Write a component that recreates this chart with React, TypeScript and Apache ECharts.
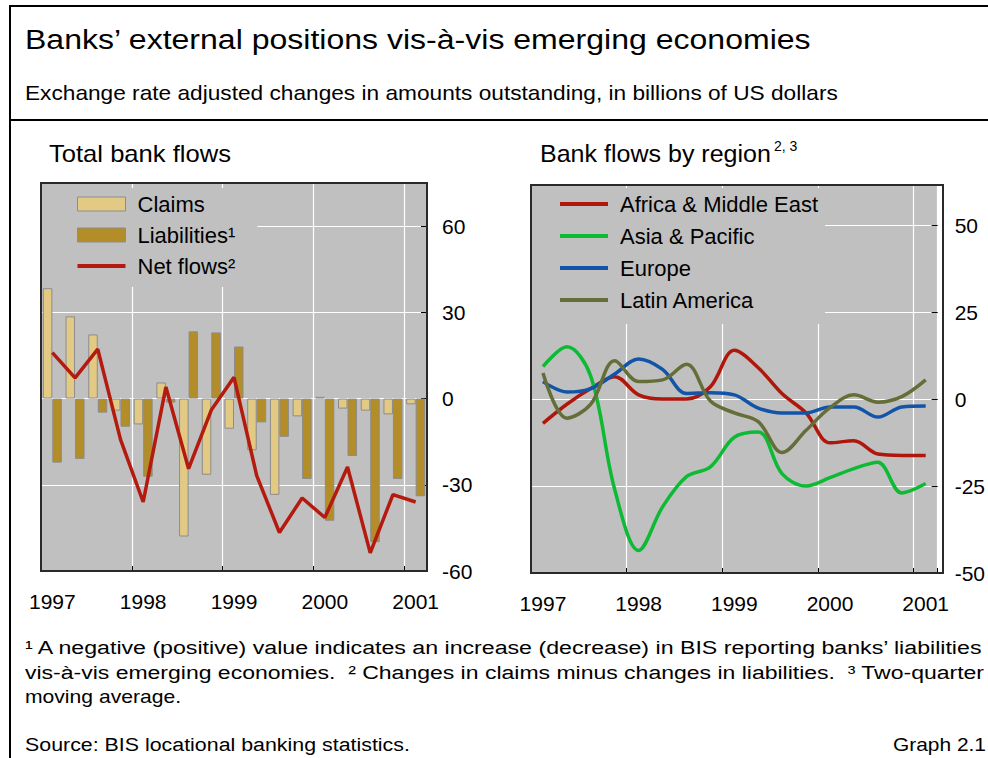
import React, { useEffect, useRef } from 'react';
import * as echarts from 'echarts';

const quarters = [
  '1997Q1', '1997Q2', '1997Q3', '1997Q4',
  '1998Q1', '1998Q2', '1998Q3', '1998Q4',
  '1999Q1', '1999Q2', '1999Q3', '1999Q4',
  '2000Q1', '2000Q2', '2000Q3', '2000Q4',
  '2001Q1',
];

// Total bank flows (USD bn)
const claims = [38.4, 28.6, 22.3, -4.2, -9.0, 5.6, -48.0, -26.5, -10.5, -18.0, -33.5, -6.2, 0.6, -3.5, -4.2, -5.5, -2.0];
const liabilities = [-22.3, -21.0, -4.9, -9.8, -27.2, -1.4, 23.4, 23.0, 18.1, -8.3, -13.3, -28.0, -42.5, -20.0, -50.0, -28.0, -34.0];
const netFlows = [16.0, 7.2, 17.2, -14.2, -36.0, 4.0, -24.4, -4.0, 7.4, -26.8, -46.6, -34.6, -41.4, -23.8, -53.7, -33.4, -36.0];

// Bank flows by region, two-quarter moving average (USD bn)
const africa = [-7.0, -1.5, 3.0, 6.4, 1.2, 0.0, 0.0, 3.5, 14.0, 9.0, 1.5, -4.0, -12.6, -12.0, -15.8, -16.2, -16.2];
const asia = [9.3, 15.0, 6.5, -26.0, -43.5, -31.0, -22.3, -19.5, -11.0, -9.5, -21.5, -25.0, -22.6, -20.0, -18.2, -27.0, -24.3];
const europe = [5.0, 2.0, 3.0, 7.2, 11.5, 8.5, 1.6, 1.8, 1.2, -2.6, -4.0, -4.0, -2.3, -2.3, -5.2, -2.3, -2.0];
const latin = [7.5, -5.5, -1.5, 11.0, 5.0, 5.5, 10.0, -0.6, -4.0, -6.5, -15.4, -9.0, -2.5, 1.2, -0.9, 0.7, 5.5];

const leftAxis = { min: -60, max: 75, interval: 30 };
const rightAxis = { min: -50, max: 61.5, interval: 25 };

const leftLegend = ['Claims', 'Liabilities¹', 'Net flows²'];
const rightLegend = ['Africa & Middle East', 'Asia & Pacific', 'Europe', 'Latin America'];

const FONT = '"Liberation Sans", Arial, Helvetica, sans-serif';

const COLORS = {
  plot: '#c0c0c0',
  claims: '#e2ca84',
  liabilities: '#b28d28',
  barBorder: '#8c8c8c',
  net: '#b41a0e',
  africa: '#b0170c',
  asia: '#0cba34',
  europe: '#1255a8',
  latin: '#656e38',
};

// a 48x14 box whose only visible part is a 4px-thick horizontal stroke through its middle
const LINE_ICON = 'path://M0,0L0.01,0L0,0.01Z M0,5L48,5L48,9L0,9Z M48,14L47.99,14L48,13.99Z';

function measure(text: string, size: number): number {
  const c = document.createElement('canvas');
  const ctx = c.getContext('2d');
  if (!ctx) return text.length * size * 0.5;
  ctx.font = `${size}px ${FONT}`;
  return ctx.measureText(text).width;
}

function fitText(text: string, x: number, y: number, size: number, width: number, extra: any = {}) {
  const w = measure(text, size);
  return {
    type: 'text',
    x,
    y,
    scaleX: width / w,
    style: {
      text,
      fontSize: size,
      fontFamily: FONT,
      fill: '#000',
      align: 'left',
      verticalAlign: 'middle',
      ...extra,
    },
  };
}

export default function App() {
  const ref = useRef<HTMLDivElement>(null);

  useEffect(() => {
    if (!ref.current) return;
    const chart = echarts.init(ref.current, undefined, { renderer: 'svg' });

    const xBase = (gridIndex: number) => ({
      type: 'category',
      gridIndex,
      data: quarters,
      position: 'bottom',
      axisLine: { show: false },
      axisTick: { show: false },
      axisLabel: {
        interval: 3,
        formatter: (v: string) => v.slice(0, 4),
        fontSize: 21,
        fontFamily: FONT,
        color: '#000',
        margin: 20,
      },
      splitLine: {
        show: true,
        interval: (i: number) => i % 4 === 0 && i !== 0,
        lineStyle: { color: '#ffffff', width: 1.2 },
      },
    });
    const xZero = (gridIndex: number) => ({
      type: 'category',
      gridIndex,
      data: quarters,
      position: 'bottom',
      z: 4,
      axisLine: { show: true, onZero: true, lineStyle: { color: '#000', width: 1.5 } },
      axisTick: { show: true, inside: true, length: 5, interval: 3, lineStyle: { color: '#000', width: 1 } },
      axisLabel: { show: false },
      splitLine: { show: false },
    });
    const yBase = (gridIndex: number, ax: { min: number; max: number; interval: number }, margin: number) => ({
      type: 'value',
      gridIndex,
      position: 'right',
      min: ax.min,
      max: ax.max,
      interval: ax.interval,
      axisLine: { show: false },
      axisTick: { show: true, inside: true, length: 6, lineStyle: { color: '#000', width: 1 } },
      axisLabel: {
        showMaxLabel: false,
        fontSize: 21,
        fontFamily: FONT,
        color: '#000',
        margin,
      },
      splitLine: { show: true, lineStyle: { color: '#ffffff', width: 1.2 } },
    });

    const lineSeries = (name: string, data: number[], color: string) => ({
      name,
      type: 'line',
      xAxisIndex: 2,
      yAxisIndex: 1,
      data,
      smooth: 0.35,
      symbol: 'none',
      lineStyle: { color, width: 3.5 },
      itemStyle: { color },
      z: 5,
    });

    const graphics: any[] = [
      // frame
      { type: 'line', shape: { x1: 10, y1: 6, x2: 990, y2: 6 }, style: { stroke: '#000', lineWidth: 2 } },
      { type: 'line', shape: { x1: 10, y1: 5, x2: 10, y2: 760 }, style: { stroke: '#000', lineWidth: 2 } },
      { type: 'line', shape: { x1: 10, y1: 120, x2: 990, y2: 120 }, style: { stroke: '#000', lineWidth: 2 } },
      // plot borders
      { type: 'rect', z: 10, shape: { x: 41, y: 183, width: 386, height: 388 }, style: { fill: 'none', stroke: '#2a2a2a', lineWidth: 2 } },
      { type: 'rect', z: 10, shape: { x: 531, y: 185, width: 412, height: 388 }, style: { fill: 'none', stroke: '#2a2a2a', lineWidth: 2 } },
      // titles
      fitText('Banks’ external positions vis-à-vis emerging economies', 25, 39, 28, 787),
      fitText('Exchange rate adjusted changes in amounts outstanding, in billions of US dollars', 25, 93, 20.5, 813),
      fitText('Total bank flows', 49, 154, 24, 182),
      fitText('Bank flows by region', 540, 154, 24, 231),
      { type: 'text', x: 774, y: 146, style: { text: '2, 3', fontSize: 14, fontFamily: FONT, fill: '#000', align: 'left', verticalAlign: 'middle' } },
      // footnotes
      fitText('¹ A negative (positive) value indicates an increase (decrease) in BIS reporting banks’ liabilities', 25, 647, 19, 960),
      fitText('vis-à-vis emerging economies.  ² Changes in claims minus changes in liabilities.  ³ Two-quarter', 25, 672, 19, 960),
      fitText('moving average.', 25, 696, 19, 156),
      fitText('Source: BIS locational banking statistics.', 25, 744, 19, 385),
      fitText('Graph 2.1', 893, 744, 19, 93),
    ];

    const option: any = {
      animation: false,
      textStyle: { fontFamily: FONT },
      grid: [
        { left: 41, top: 183, width: 386, height: 388, show: true, backgroundColor: COLORS.plot, borderWidth: 0 },
        { left: 531, top: 185, width: 412, height: 388, show: true, backgroundColor: COLORS.plot, borderWidth: 0 },
      ],
      xAxis: [xBase(0), xZero(0), xBase(1), xZero(1)],
      yAxis: [yBase(0, leftAxis, 15), yBase(1, rightAxis, 17)],
      legend: [
        {
          orient: 'vertical',
          left: 41,
          top: 188,
          padding: [5, 22, 10, 36],
          itemGap: 9,
          itemWidth: 48,
          itemHeight: 14,
          backgroundColor: COLORS.plot,
          selectedMode: false,
          data: [
            { name: leftLegend[0], icon: 'rect' },
            { name: leftLegend[1], icon: 'rect' },
            { name: leftLegend[2], icon: LINE_ICON },
          ],
          textStyle: { fontSize: 22, fontFamily: FONT, color: '#000', padding: [0, 0, 0, 7] },
          itemStyle: { borderWidth: 1 },
        },
        {
          orient: 'vertical',
          left: 531,
          top: 188,
          padding: [5, 7, 13, 29],
          itemGap: 10,
          itemWidth: 48,
          itemHeight: 14,
          backgroundColor: COLORS.plot,
          selectedMode: false,
          data: rightLegend.map((n) => ({ name: n, icon: LINE_ICON })),
          textStyle: { fontSize: 22, fontFamily: FONT, color: '#000', padding: [0, 0, 0, 7] },
          itemStyle: { borderWidth: 0 },
        },
      ],
      series: [
        {
          name: leftLegend[0],
          type: 'bar',
          xAxisIndex: 0,
          yAxisIndex: 0,
          data: claims,
          barWidth: 9.5,
          barGap: '0%',
          itemStyle: { color: COLORS.claims, borderColor: COLORS.barBorder, borderWidth: 1 },
        },
        {
          name: leftLegend[1],
          type: 'bar',
          xAxisIndex: 0,
          yAxisIndex: 0,
          data: liabilities,
          barWidth: 9.5,
          barGap: '0%',
          itemStyle: { color: COLORS.liabilities, borderColor: COLORS.barBorder, borderWidth: 1 },
        },
        {
          name: leftLegend[2],
          type: 'line',
          xAxisIndex: 0,
          yAxisIndex: 0,
          data: netFlows,
          symbol: 'none',
          lineStyle: { color: COLORS.net, width: 3.5 },
          itemStyle: { color: COLORS.net, borderWidth: 0 },
          z: 5,
        },
        lineSeries(rightLegend[0], africa, COLORS.africa),
        lineSeries(rightLegend[1], asia, COLORS.asia),
        lineSeries(rightLegend[2], europe, COLORS.europe),
        lineSeries(rightLegend[3], latin, COLORS.latin),
      ],
      graphic: graphics,
    };

    chart.setOption(option);
    return () => chart.dispose();
  }, []);

  return (
    <div
      ref={ref}
      style={{ position: 'absolute', left: 0, top: 0, width: 988, height: 758, background: '#fff' }}
    />
  );
}
